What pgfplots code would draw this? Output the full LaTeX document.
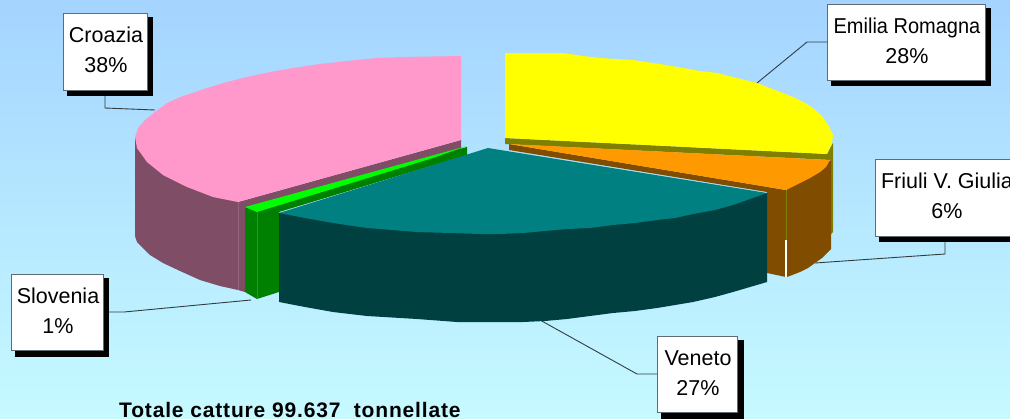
\documentclass[border=0pt]{standalone}
\usepackage{fontspec}
\setmainfont{Liberation Sans}
\usepackage{pgfplots}
\pgfplotsset{compat=1.18}
\definecolor{bgtop}{RGB}{164,212,255}
\definecolor{bgbot}{RGB}{198,250,255}
\definecolor{pinktop}{RGB}{255,153,204}
\definecolor{pinkside}{RGB}{128,77,102}
\definecolor{pinkline}{RGB}{150,100,125}
\definecolor{yeltop}{RGB}{255,255,0}
\definecolor{yelside}{RGB}{128,128,0}
\definecolor{orangetop}{RGB}{255,153,0}
\definecolor{orside}{RGB}{128,77,0}
\definecolor{tealtop}{RGB}{0,128,128}
\definecolor{tealside}{RGB}{0,64,64}
\definecolor{limetop}{RGB}{0,255,0}
\definecolor{grn}{RGB}{0,128,0}
\definecolor{grnline}{RGB}{40,150,40}
\definecolor{boxline}{RGB}{95,107,117}
\definecolor{leader}{RGB}{50,60,65}
\tikzset{lab/.style={font=\fontsize{21.5}{30}\selectfont,align=center,text=black,inner sep=0pt}}
\begin{document}
\begin{tikzpicture}
\useasboundingbox (0,0) rectangle (1010pt,418pt);
\clip (0,0) rectangle (1010pt,418pt);
\begin{axis}[
  at={(0,0)}, anchor=south west,
  scale only axis, width=1010pt, height=418pt,
  xmin=0, xmax=1010, ymin=0, ymax=418, y dir=reverse,
  axis line style={draw=none}, xtick=\empty, ytick=\empty,
  axis background/.style={top color=bgtop,bottom color=bgbot},
  no markers,
]
% leader lines
\addplot[leader,line width=0.9pt] coordinates {(827,42) (807,42) (757,83)};
\addplot[leader,line width=0.9pt] coordinates {(945,242) (945,254) (815,263)};
\addplot[leader,line width=0.9pt] coordinates {(657,374) (637,374) (540,320)};
\addplot[leader,line width=0.9pt] coordinates {(105,96) (105,108) (155,110)};
\addplot[leader,line width=0.9pt] coordinates {(109,312) (124,312) (251,300)};
% Croazia
\addplot[fill=pinkside,draw=none] coordinates {(461,140) (461,150) (245,210) (245,292) (238,290) (220,286) (200,280) (180,271) (163,263) (150,255) (137,242) (135,236) (135,137) (238,202)} --cycle;
\addplot[pinkline,line width=0.7pt] coordinates {(238,202) (238,290)};
\addplot[fill=pinktop,draw=none] coordinates {(461,56) (403,57) (377,58) (347,61) (320,64) (293,68) (270,72) (247,77) (227,82) (207,88) (180,97) (167,103) (155,112) (145,120) (138,128) (135,137) (137,148) (147,162) (163,175) (173,180) (187,187) (200,192) (213,197) (238,202) (461,140)} --cycle;
% Emilia Romagna
\addplot[fill=yelside,draw=none] coordinates {(505,138) (827,154) (833,143) (833,232) (831,234) (831,160) (505,144)} --cycle;
\addplot[fill=yeltop,draw=none] coordinates {(505,53) (563,53) (583,56) (600,58) (633,60) (660,64) (683,68) (700,71) (717,73) (737,78) (757,83) (775,90) (793,97) (805,103) (813,108) (822,116) (828,125) (833,135) (832,143) (827,154) (505,138)} --cycle;
% Friuli
\addplot[fill=orside,draw=none] coordinates {(509,144) (786,190) (786,277) (767,273) (767,192) (509,150)} --cycle;
\addplot[fill=orside,draw=none] coordinates {(787,189) (831,160) (831,249) (822,258) (815,263) (808,268) (800,272) (787,277)} --cycle;
\addplot[yelside,line width=1pt] coordinates {(786,190) (786,240)};
\addplot[white,line width=1.2pt] coordinates {(786,240) (786,277)};
\addplot[fill=orangetop,draw=none] coordinates {(509,144) (830,160) (826,167) (820,172) (810,178) (800,183) (786,190)} --cycle;
% Slovenia
\addplot[fill=grn,draw=none] coordinates {(467,147) (467,155) (279,212) (279,292) (257,299) (245,292) (245,208)} --cycle;
\addplot[grnline,line width=0.7pt] coordinates {(257,212) (257,299)};
\addplot[fill=limetop,draw=none] coordinates {(467,146) (245,207) (257,212) (433,158)} --cycle;
% Veneto
\addplot[fill=tealside,draw=none] coordinates {(279,213) (400,205) (767,193) (767,282) (750,287) (733,292) (715,297) (693,302) (675,305) (657,308) (635,311) (613,313) (590,316) (567,319) (545,321) (523,322) (500,322) (457,322) (417,319) (367,316) (333,312) (305,307) (279,302)} --cycle;
\addplot[fill=tealtop,draw=none] coordinates {(488,148) (767,193) (750,199) (733,205) (715,210) (693,214) (675,218) (657,220) (635,223) (613,225) (590,228) (567,229) (545,231) (523,233) (500,234) (480,234) (450,233) (417,232) (367,228) (333,223) (305,218) (279,213)} --cycle;
% label boxes, shadow first
\addplot[fill=black,draw=none] coordinates {(831,8) (991,8) (991,86) (831,86)} --cycle;
\addplot[fill=white,draw=boxline,line width=1pt] coordinates {(827,4) (985,4) (985,80) (827,80)} --cycle;
\addplot[fill=black,draw=none] coordinates {(879,163) (1016,163) (1016,242) (879,242)} --cycle;
\addplot[fill=white,draw=boxline,line width=1pt] coordinates {(875,159) (1014,159) (1014,236) (875,236)} --cycle;
\addplot[fill=black,draw=none] coordinates {(661,340) (744,340) (744,424) (661,424)} --cycle;
\addplot[fill=white,draw=boxline,line width=1pt] coordinates {(657,336) (737,336) (737,412) (657,412)} --cycle;
\addplot[fill=black,draw=none] coordinates {(67,17) (153,17) (153,96) (67,96)} --cycle;
\addplot[fill=white,draw=boxline,line width=1pt] coordinates {(63,13) (147,13) (147,90) (63,90)} --cycle;
\addplot[fill=black,draw=none] coordinates {(15,278) (109,278) (109,357) (15,357)} --cycle;
\addplot[fill=white,draw=boxline,line width=1pt] coordinates {(11,274) (103,274) (103,350) (11,350)} --cycle;
\node[lab] at (axis cs:907,41) {\scalebox{0.93}[1]{Emilia Romagna}\\28\%};
\node[lab] at (axis cs:947,196) {Friuli V. Giulia\\6\%};
\node[lab] at (axis cs:698,373) {Veneto\\27\%};
\node[lab] at (axis cs:106,50) {Croazia\\38\%};
\node[lab] at (axis cs:58,311) {Slovenia\\1\%};
\node[anchor=base west,inner sep=0pt,font=\fontsize{21}{25}\selectfont\bfseries\addfontfeature{LetterSpace=4},text=black] at (axis cs:119,417) {Totale catture 99.637\ \ tonnellate};
\end{axis}
\end{tikzpicture}
\end{document}
